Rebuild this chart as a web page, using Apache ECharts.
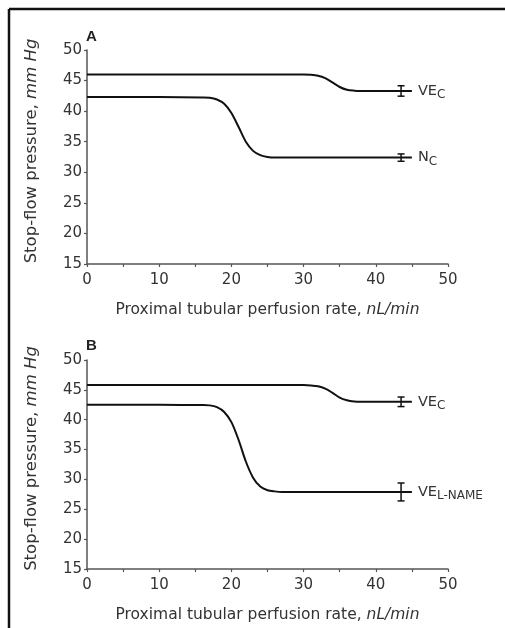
<!DOCTYPE html>
<html><head><meta charset="utf-8">
<script src="https://cdn.jsdelivr.net/npm/echarts@6/dist/echarts.min.js"></script>
<style>html,body{margin:0;padding:0;background:#fff}#c{width:505px;height:628px}</style>
</head><body><div id="c"></div>
<script>
// Panel A
var aVeX = [0, 10, 20, 30, 31, 32, 33, 34, 35, 36, 37, 38, 40, 45];
var aVeY = [46, 46, 46, 46, 45.95, 45.8, 45.4, 44.7, 43.95, 43.5, 43.35, 43.3, 43.3, 43.3];
var aNX = [0, 10, 16, 17, 18, 19, 20, 21, 22, 23, 24, 25, 26, 30, 35, 40, 45];
var aNY = [42.3, 42.3, 42.25, 42.2, 41.9, 41.2, 39.7, 37.4, 35.0, 33.5, 32.8, 32.5, 32.4, 32.4, 32.4, 32.4, 32.4];
// Panel B
var bVeX = [0, 10, 20, 30, 31, 32, 33, 34, 35, 36, 37, 38, 40, 45];
var bVeY = [45.8, 45.8, 45.8, 45.8, 45.75, 45.6, 45.2, 44.5, 43.7, 43.25, 43.05, 43.0, 43.0, 43.0];
var bLX = [0, 10, 16, 17, 18, 19, 20, 21, 22, 23, 24, 25, 26, 27, 30, 35, 40, 45];
var bLY = [42.5, 42.5, 42.45, 42.4, 42.1, 41.3, 39.6, 36.6, 33.0, 30.3, 28.8, 28.2, 28.0, 27.9, 27.9, 27.9, 27.9, 27.9];
// Error bars [x, low, high]
var aErr = [[43.5, 42.45, 44.15], [43.5, 31.8, 33.0]];
var bErr = [[43.5, 42.2, 43.8], [43.5, 26.4, 29.4]];
// Axis ticks
var xTicks = [0, 10, 20, 30, 40, 50];
var yTicks = [15, 20, 25, 30, 35, 40, 45, 50];

function pairs(xs, ys) { return xs.map(function (x, i) { return [x, ys[i]]; }); }

var FONT = '"DejaVu Sans", "Liberation Sans", sans-serif';
var TXT = '#333';
var AX = '#555';

function xAxis(idx) {
  return {
    gridIndex: idx, type: 'value', min: xTicks[0], max: xTicks[xTicks.length - 1], interval: 10,
    axisLine: { lineStyle: { color: AX, width: 1.5 } },
    axisTick: { show: true, length: 3, inside: false, lineStyle: { color: AX, width: 1.2 } },
    minorTick: { show: true, splitNumber: 2, length: 3, lineStyle: { color: AX, width: 1.2 } },
    splitLine: { show: false },
    axisLabel: { color: TXT, fontSize: 15, fontFamily: FONT, margin: 9 },
    name: '{n|Proximal tubular perfusion rate, }{i|nL/min}',
    nameLocation: 'middle', nameGap: 38,
    nameTextStyle: { rich: { n: { fontSize: 15.5, color: TXT, fontFamily: FONT }, i: { fontSize: 15.5, color: TXT, fontFamily: FONT, fontStyle: 'italic' } } }
  };
}
function yAxis(idx) {
  return {
    gridIndex: idx, type: 'value', min: yTicks[0], max: yTicks[yTicks.length - 1], interval: 5,
    axisLine: { show: true, lineStyle: { color: AX, width: 1.5 } },
    axisTick: { show: true, length: 3, lineStyle: { color: AX, width: 1.2 } },
    splitLine: { show: false },
    axisLabel: { color: TXT, fontSize: 15, fontFamily: FONT, margin: 5 },
    name: '{n|Stop-flow pressure, }{i|mm Hg}',
    nameLocation: 'middle', nameGap: 47,
    nameTextStyle: { padding: [0, 0, 0, 12], rich: { n: { fontSize: 16.5, color: TXT, fontFamily: FONT }, i: { fontSize: 16.5, color: TXT, fontFamily: FONT, fontStyle: 'italic' } } }
  };
}
function curve(name, data, idx, main, sub) {
  return {
    name: name, type: 'line', xAxisIndex: idx, yAxisIndex: idx, data: data,
    showSymbol: false, smooth: 0.3,
    lineStyle: { color: '#111', width: 2 },
    endLabel: {
      show: true, distance: 6,
      formatter: '{a|' + main + '}{s|' + sub + '}',
      rich: {
        a: { fontSize: 14.5, color: TXT, fontFamily: FONT },
        s: { fontSize: 12, color: TXT, fontFamily: FONT, padding: [8, 0, 0, 0] }
      }
    },
    z: 3
  };
}
function errSeries(data, idx) {
  return {
    type: 'custom', xAxisIndex: idx, yAxisIndex: idx, data: data,
    renderItem: function (params, api) {
      var lo = api.coord([api.value(0), api.value(1)]);
      var hi = api.coord([api.value(0), api.value(2)]);
      var w = 3.5;
      var st = { stroke: '#111', lineWidth: 1.5 };
      return { type: 'group', children: [
        { type: 'line', shape: { x1: lo[0], y1: lo[1], x2: hi[0], y2: hi[1] }, style: st },
        { type: 'line', shape: { x1: lo[0] - w, y1: lo[1], x2: lo[0] + w, y2: lo[1] }, style: st },
        { type: 'line', shape: { x1: hi[0] - w, y1: hi[1], x2: hi[0] + w, y2: hi[1] }, style: st }
      ] };
    },
    z: 4
  };
}

var chart = echarts.init(document.getElementById('c'), null, { renderer: 'canvas' });
chart.setOption({
  animation: false,
  backgroundColor: '#fff',
  title: [
    { text: 'A', left: 81, top: 24, textStyle: { fontSize: 15, fontWeight: 'bold', color: '#222', fontFamily: '"Liberation Sans", Arial, sans-serif' } },
    { text: 'B', left: 81, top: 333, textStyle: { fontSize: 15, fontWeight: 'bold', color: '#222', fontFamily: '"Liberation Sans", Arial, sans-serif' } }
  ],
  graphic: [
    { type: 'line', shape: { x1: 9, y1: 9, x2: 505, y2: 9 }, style: { stroke: '#111', lineWidth: 2.5 } },
    { type: 'line', shape: { x1: 9, y1: 9, x2: 9, y2: 628 }, style: { stroke: '#111', lineWidth: 2.5 } }
  ],
  grid: [
    { left: 87, right: 57, top: 50, height: 214 },
    { left: 87, right: 57, top: 360, height: 209 }
  ],
  xAxis: [xAxis(0), xAxis(1)],
  yAxis: [yAxis(0), yAxis(1)],
  series: [
    curve('VEc A', pairs(aVeX, aVeY), 0, 'VE', 'C'),
    curve('Nc A', pairs(aNX, aNY), 0, 'N', 'C'),
    curve('VEc B', pairs(bVeX, bVeY), 1, 'VE', 'C'),
    curve('VEl B', pairs(bLX, bLY), 1, 'VE', 'L-NAME'),
    errSeries(aErr, 0), errSeries(bErr, 1)
  ]
});
</script></body></html>
